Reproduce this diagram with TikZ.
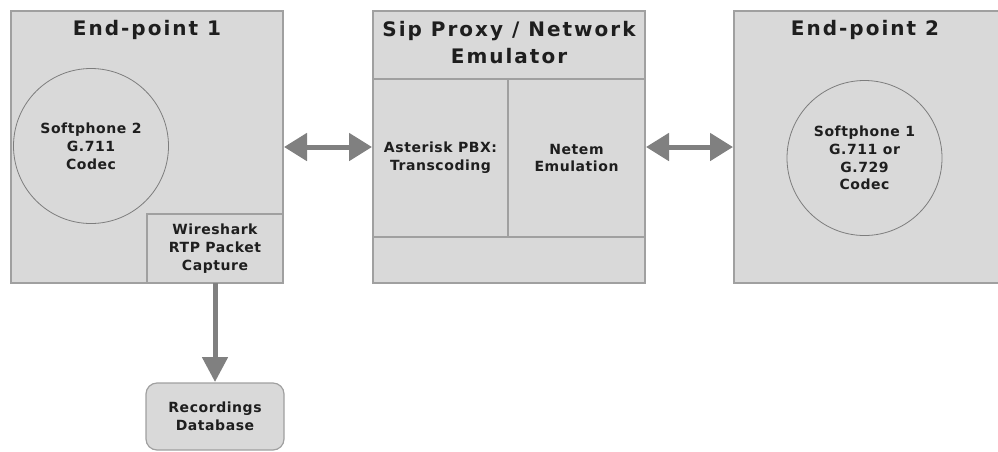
\documentclass[tikz,border=0pt]{standalone}
\usepackage{fontspec}
\setmainfont{DejaVu Sans}
\newfontfamily\titlefont{DejaVu Sans}[LetterSpace=10]
\newfontfamily\boxtextfont{DejaVu Sans}[LetterSpace=4]
\usetikzlibrary{arrows.meta,positioning,calc}
\definecolor{boxfill}{RGB}{217,217,217}
\definecolor{boxline}{RGB}{160,160,160}
\definecolor{ringline}{RGB}{125,125,125}
\definecolor{arrowgray}{RGB}{128,128,128}
\definecolor{textdark}{RGB}{30,30,30}

\begin{document}
\begin{tikzpicture}[x=1pt,y=-1pt,inner sep=0pt,outer sep=0pt,text=textdark,
  link/.style={{Triangle[length=23pt,width=27pt]}-{Triangle[length=23pt,width=27pt]},draw=arrowgray,line width=5pt,shorten <=1pt,shorten >=1pt},
  feed/.style={-{Triangle[length=25pt,width=25pt]},draw=arrowgray,line width=5pt,shorten >=1pt}]
\tikzstyle{box}=[draw=boxline,fill=boxfill,line width=1.2pt,align=center,font=\boxtextfont\bfseries\fontsize{14}{17.8}\selectfont]
  \tikzstyle{phone}=[circle,draw=ringline,line width=0.8pt,align=center,minimum size=155pt,font=\boxtextfont\bfseries\fontsize{14}{17.8}\selectfont]
  \tikzstyle{title}=[align=center,font=\titlefont\bfseries\fontsize{20}{27}\selectfont]
%
\useasboundingbox (0,0) rectangle (998,451);
\clip (0,0) rectangle (998,451);
%
\node[box,minimum width=272pt,minimum height=272pt] (ep1) at (147,147) {};
  \node[title] (lab1) at ($(ep1.north)+(0,19)$) {End-point 1};
  \node[phone] (sp2) at (91,146) {Softphone 2\\G.711\\Codec};
  \node[box,anchor=south east,minimum width=136pt,minimum height=69pt] (ws) at (ep1.south east) {Wireshark\\RTP Packet\\Capture};
%
\node[box,right=90pt of ep1,minimum width=272pt,minimum height=272pt] (sip) {};
  \node[title] (lab2) at ($(sip.north)+(0,32)$) {Sip Proxy / Network\\Emulator};
  \node[box,anchor=north west,minimum width=135pt,minimum height=158pt] (ast) at ($(sip.north west)+(0,68)$) {Asterisk PBX:\\Transcoding};
  \node[box,right=0pt of ast,minimum width=137pt,minimum height=158pt] (net) {Netem\\Emulation};
%
\node[box,right=89pt of sip,minimum width=272pt,minimum height=272pt] (ep2) {};
  \node[title] (lab3) at ($(ep2.north west)+(131,19)$) {End-point 2};
  \node[phone] (sp1) at (864.5,158) {Softphone 1\\G.711 or\\G.729\\Codec};
%
\node[box,rounded corners=11pt,below=100pt of ws,minimum width=138pt,minimum height=67pt] (db) {Recordings\\Database};
%
\draw[link] (ep1) -- (sip);
  \draw[link] (sip) -- (ep2);
  \draw[feed] (ws) -- (db);
\end{tikzpicture}
\end{document}
